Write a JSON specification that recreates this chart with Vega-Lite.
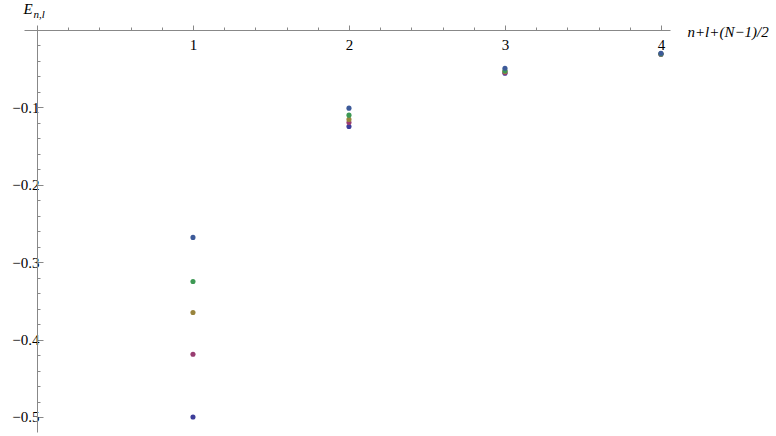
{
  "$schema": "https://vega.github.io/schema/vega-lite/v6.json",
  "width": 646,
  "height": 402,
  "autosize": "none",
  "padding": {"left": 24, "top": 30, "right": 106, "bottom": 4},
  "background": "white",
  "config": {"view": {"stroke": null}, "font": "Liberation Serif"},
  "data": {"values": [
    {"k": 1, "E": -0.5, "s": "1"},
    {"k": 1, "E": -0.419, "s": "2"},
    {"k": 1, "E": -0.365, "s": "3"},
    {"k": 1, "E": -0.325, "s": "4"},
    {"k": 1, "E": -0.268, "s": "5"},
    {"k": 2, "E": -0.1247, "s": "1"},
    {"k": 2, "E": -0.1196, "s": "2"},
    {"k": 2, "E": -0.1155, "s": "3"},
    {"k": 2, "E": -0.110, "s": "4"},
    {"k": 2, "E": -0.101, "s": "5"},
    {"k": 3, "E": -0.0558, "s": "1"},
    {"k": 3, "E": -0.0548, "s": "2"},
    {"k": 3, "E": -0.0535, "s": "3"},
    {"k": 3, "E": -0.0525, "s": "4"},
    {"k": 3, "E": -0.0495, "s": "5"},
    {"k": 4, "E": -0.0313, "s": "1"},
    {"k": 4, "E": -0.0311, "s": "2"},
    {"k": 4, "E": -0.0310, "s": "3"},
    {"k": 4, "E": -0.0308, "s": "4"},
    {"k": 4, "E": -0.0300, "s": "5"}
  ]},
  "resolve": {"axis": {"y": "independent"}},
  "layer": [
    {
      "mark": {"type": "point", "filled": true, "size": 26, "opacity": 1},
      "encoding": {
        "x": {
          "field": "k", "type": "quantitative",
          "scale": {"domain": [-0.0833, 4.058], "nice": false, "zero": false},
          "axis": {
            "orient": "top",
            "values": [0, 0.2, 0.4, 0.6, 0.8, 1, 1.2, 1.4, 1.6, 1.8, 2, 2.2, 2.4, 2.6, 2.8, 3, 3.2, 3.4, 3.6, 3.8, 4],
            "labelExpr": "datum.value > 0 && abs(datum.value - round(datum.value)) < 1e-6 ? format(datum.value, 'd') : ''",
            "labelOverlap": false,
            "labelFlush": false,
            "labelBound": false,
            "tickSize": {"condition": {"test": "abs(datum.value - round(datum.value)) < 1e-6", "value": 5}, "value": 3},
            "tickColor": "#888888",
            "domainColor": "#888888",
            "tickWidth": 1,
            "domainWidth": 1,
            "grid": false,
            "labelFont": "Liberation Serif",
            "labelFontSize": 15,
            "labelColor": "black",
            "labelBaseline": "top",
            "labelPadding": -12,
            "title": "n+l+(N−1)/2",
            "titleFont": "Liberation Serif",
            "titleFontStyle": "italic",
            "titleFontWeight": "normal",
            "titleFontSize": 15,
            "titleColor": "black",
            "titleAnchor": "start",
            "titleAlign": "left",
            "titleBaseline": "middle",
            "titleX": 663,
            "titleY": 1
          }
        },
        "y": {
          "field": "E", "type": "quantitative",
          "scale": {"domain": [-0.5194, 0], "nice": false, "zero": false},
          "axis": {
            "orient": "left",
            "offset": -13,
            "values": [0, -0.02, -0.04, -0.06, -0.08, -0.1, -0.12, -0.14, -0.16, -0.18, -0.2, -0.22, -0.24, -0.26, -0.28, -0.3, -0.32, -0.34, -0.36, -0.38, -0.4, -0.42, -0.44, -0.46, -0.48, -0.5],
            "labelExpr": "datum.value < 0 && abs(datum.value*10 - round(datum.value*10)) < 1e-6 ? format(datum.value, '.1f') : ''",
            "labelOverlap": false,
            "labelFlush": false,
            "labelBound": false,
            "tickSize": {"condition": {"test": "abs(datum.value*10 - round(datum.value*10)) < 1e-6", "value": -6}, "value": -3},
            "tickColor": "#888888",
            "domainColor": "#888888",
            "tickWidth": 1,
            "domainWidth": 1,
            "grid": false,
            "labelFont": "Liberation Serif",
            "labelFontSize": 15,
            "labelColor": "black",
            "labelPadding": 4,
            "title": "E",
            "titleFont": "Liberation Serif",
            "titleFontStyle": "italic",
            "titleFontWeight": "normal",
            "titleFontSize": 15,
            "titleColor": "black",
            "titleAngle": 0,
            "titleAlign": "left",
            "titleBaseline": "alphabetic",
            "titleX": -14,
            "titleY": -17
          }
        },
        "color": {
          "field": "s", "type": "nominal",
          "scale": {"domain": ["1", "2", "3", "4", "5"], "range": ["#3D3D99", "#993D71", "#99843D", "#3D9954", "#3D5A99"]},
          "legend": null
        }
      }
    },
    {
      "mark": {"type": "point", "opacity": 0},
      "encoding": {
        "y": {
          "field": "E", "type": "quantitative",
          "axis": {
            "orient": "left",
            "offset": -13,
            "domain": false,
            "ticks": false,
            "labels": false,
            "grid": false,
            "title": "n,l",
            "titleFont": "Liberation Serif",
            "titleFontStyle": "italic",
            "titleFontWeight": "normal",
            "titleFontSize": 11,
            "titleColor": "black",
            "titleAngle": 0,
            "titleAlign": "left",
            "titleBaseline": "alphabetic",
            "titleX": -4,
            "titleY": -13
          }
        }
      }
    }
  ]
}
